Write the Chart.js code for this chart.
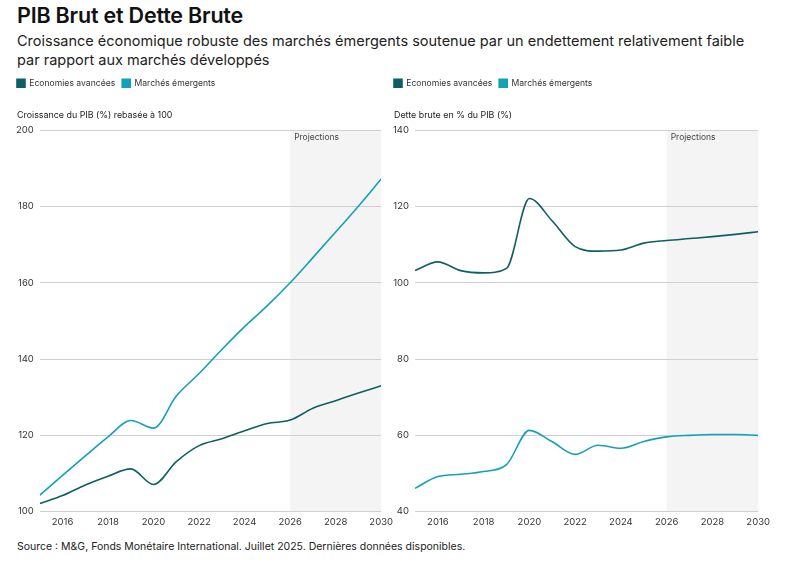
<!DOCTYPE html>
<html><head><meta charset="utf-8">
<script src="https://cdn.jsdelivr.net/npm/chart.js@4.4.1/dist/chart.umd.min.js"></script>
<style>
body{margin:0;background:#fff;font-family:Inter,"Noto Sans",sans-serif;color:#111;width:785px;height:564px;overflow:hidden;position:relative}
#t{position:absolute;left:17px;top:2px;font-size:21.5px;font-weight:600;letter-spacing:-0.2px}
#s{position:absolute;left:17px;top:32px;font-size:14.5px;line-height:18.5px;color:#222;width:760px}
#src{position:absolute;left:17px;top:540px;font-size:10.5px;color:#222}
.c{position:absolute;top:72px;height:461px}
</style></head><body>
<div id="t">PIB Brut et Dette Brute</div>
<div id="s">Croissance économique robuste des marchés émergents soutenue par un endettement relativement faible<br>par rapport aux marchés développés</div>
<div class="c" style="left:10px;width:388px"><canvas id="c1"></canvas></div>
<div class="c" style="left:387px;width:388px"><canvas id="c2"></canvas></div>
<div id="src">Source : M&amp;G, Fonds Monétaire International. Juillet 2025. Dernières données disponibles.</div>
<script>
const years = [2015,2016,2017,2018,2019,2020,2021,2022,2023,2024,2025,2026,2027,2028,2029,2030];
const seriesNames = ["Economies avancées","Marchés émergents"];
const gdpAdvanced = [102.1,104.2,107.0,109.3,111.2,107.1,113.1,117.3,119.1,121.2,123.1,124.0,127.1,129.1,131.1,133.0];
const gdpEmerging = [104.3,109.5,114.6,119.6,123.9,121.9,130.3,136.2,142.5,148.5,154.0,160.0,166.6,173.3,180.1,187.2];
const debtAdvanced = [103.2,105.5,103.2,102.6,103.8,122.1,116.2,109.5,108.3,108.6,110.4,111.1,111.6,112.1,112.7,113.4];
const debtEmerging = [46.1,49.2,49.8,50.5,52.3,61.3,58.3,55.0,57.4,56.6,58.4,59.6,60.0,60.2,60.2,60.0];
const xTicks = [2016,2018,2020,2022,2024,2026,2028,2030];
const projectionStart = 2026;
const gdpYTicks = [100,120,140,160,180,200];
const debtYTicks = [40,60,80,100,120,140];
const colors = ["#0d5f65","#14a0b8"];
const FONT = 'Inter, "Noto Sans", sans-serif';

const projPlugin = {
  id:'proj',
  beforeDraw(chart){
    const {ctx, chartArea:a, scales:{x}} = chart;
    const x0 = x.getPixelForValue(projectionStart);
    ctx.save();
    ctx.fillStyle = '#f4f4f4';
    ctx.fillRect(x0, a.top, a.right - x0, a.bottom - a.top);
    ctx.fillStyle = '#444';
    ctx.font = '8.5px ' + FONT;
    ctx.textBaseline = 'top';
    ctx.fillText('Projections', x0 + 4, a.top + 3);
    ctx.restore();
  },
  afterDraw(chart, args, opts){
    const tb = chart.titleBlock;
    if(!tb) return;
    const ctx = chart.ctx;
    ctx.save();
    ctx.fillStyle = '#222';
    ctx.font = '8.9px ' + FONT;
    ctx.textBaseline = 'middle';
    ctx.fillText(opts.text, tb.left + 7, (tb.top + tb.bottom) / 2 + 1);
    ctx.restore();
  }
};

function make(id, a, b, yTicks, title){
  const pts = arr => years.map((y,i)=>({x:y,y:arr[i]}));
  new Chart(document.getElementById(id), {
    type:'line',
    data:{datasets:[
      {label:seriesNames[0], data:pts(a), borderColor:colors[0], backgroundColor:colors[0], borderWidth:1.6, pointRadius:0, cubicInterpolationMode:'monotone'},
      {label:seriesNames[1], data:pts(b), borderColor:colors[1], backgroundColor:colors[1], borderWidth:1.6, pointRadius:0, cubicInterpolationMode:'monotone'}
    ]},
    options:{
      responsive:true, maintainAspectRatio:false, animation:false,
      layout:{padding:{left:0,right:0,top:0,bottom:0}},
      plugins:{
        legend:{position:'top', align:'start', labels:{boxWidth:8, boxHeight:8, padding:7, color:'#333', font:{size:8.6, family:FONT}}},
        title:{display:true, text:title, align:'start', weight:500, color:'rgba(0,0,0,0)', padding:{top:12,bottom:10}, font:{size:8.9, weight:'normal', family:FONT}},
        proj:{text:title},
        tooltip:{enabled:false}
      },
      scales:{
        x:{type:'linear', min:years[0], max:years[years.length-1],
          afterBuildTicks(s){ s.ticks = xTicks.map(v=>({value:v})); },
          grid:{display:false, drawTicks:false}, border:{display:false},
          ticks:{color:'#333', font:{size:9.5, family:FONT}, maxRotation:0, padding:5, callback:v=>String(v)}},
        y:{min:yTicks[0], max:yTicks[yTicks.length-1],
          afterBuildTicks(s){ s.ticks = yTicks.map(v=>({value:v})); },
          grid:{color:'#cfcfcf', drawTicks:false, lineWidth:1}, border:{display:false},
          ticks:{color:'#333', padding:6, font:{size:9.5, family:FONT}}}
      }
    },
    plugins:[projPlugin]
  });
}
make('c1', gdpAdvanced, gdpEmerging, gdpYTicks, 'Croissance du PIB (%) rebasée à 100');
make('c2', debtAdvanced, debtEmerging, debtYTicks, 'Dette brute en % du PIB (%)');
</script>
</body></html>
